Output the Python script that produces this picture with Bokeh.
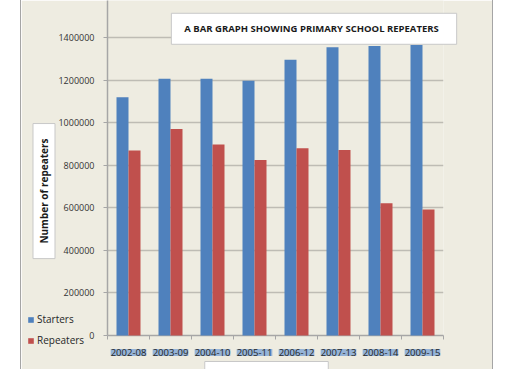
import math
from bokeh.plotting import figure
from bokeh.layouts import column
from bokeh.models import (ColumnDataSource, Range1d, FixedTicker, NumeralTickFormatter,
                          LabelSet, Label)
from bokeh.embed import file_html
from bokeh.resources import INLINE
from bokeh.core.properties import value

# ---- data ----
periods = ["2002-08", "2003-09", "2004-10", "2005-11", "2006-12", "2007-13", "2008-14", "2009-15"]
starters = [1120000, 1207000, 1207000, 1198000, 1296000, 1355000, 1361000, 1366000]
repeaters = [870000, 971000, 898000, 825000, 880000, 872000, 622000, 592000]
y_ticks = [0, 200000, 400000, 600000, 800000, 1000000, 1200000, 1400000]

title_text = "A BAR GRAPH  SHOWING PRIMARY  SCHOOL REPEATERS"
y_title = "Number of repeaters"
x_title = "Period of cohorts"

FONT = "Open Sans"
BG = "#EEECE1"
BLUE = "#4F81BD"
RED = "#C0504D"
AXIS = "#A6A6A6"

# ---- layout constants ----
W, H = 471, 369
LEFT, RIGHT, TOP, BOTTOM = 86, 49, 0, 34
Y_END = 1575000

n = len(periods)
bar_w = 12 / 42
centers = [i + 0.5 for i in range(n)]
src = ColumnDataSource(dict(
    period=periods,
    center=centers,
    sx=[c - bar_w / 2 for c in centers],
    rx=[c + bar_w / 2 for c in centers],
    starters=starters,
    repeaters=repeaters,
))

# ---------------- main chart: background, axes, grid ----------------
p = figure(width=W, height=H, output_backend="svg", toolbar_location=None,
           x_range=Range1d(0, n), y_range=Range1d(0, Y_END),
           min_border_left=LEFT, min_border_right=RIGHT,
           min_border_top=TOP, min_border_bottom=BOTTOM)
p.frame_align = False
p.margin = (0, 0, 0, 21)
p.styles = {"box-shadow": "-1px 0 0 #A5A5A5, 1px 0 0 #A5A5A5"}
p.background_fill_color = BG
p.border_fill_color = BG
p.outline_line_color = None

p.yaxis.ticker = FixedTicker(ticks=y_ticks)
p.yaxis.formatter = NumeralTickFormatter(format="0")
p.yaxis.axis_line_color = AXIS
p.yaxis.axis_line_width = 1.5
p.yaxis.major_tick_line_color = AXIS
p.yaxis.major_tick_out = 4
p.yaxis.major_tick_in = 0
p.yaxis.minor_tick_line_color = None
p.yaxis.major_label_standoff = 9
p.yaxis.major_label_text_font = FONT
p.yaxis.major_label_text_font_size = "9px"
p.yaxis.major_label_text_color = "#333333"

# x axis: tick marks at category boundaries (category labels drawn in overlay)
p.xaxis.ticker = FixedTicker(ticks=[], minor_ticks=list(range(n + 1)))
p.xaxis.axis_line_color = AXIS
p.xaxis.axis_line_width = 1.5
p.xaxis.minor_tick_line_color = AXIS
p.xaxis.minor_tick_out = 4
p.xaxis.minor_tick_in = 0
p.xaxis.major_tick_line_color = None

p.xgrid.grid_line_color = None
p.ygrid.grid_line_color = "#BEBCB4"
p.ygrid.grid_line_width = 1.5

# ---------------- transparent overlay: same data units over the whole canvas ----------------
px_x = (W - LEFT - RIGHT) / n
px_y = (H - TOP - BOTTOM) / Y_END
q = figure(width=W, height=H, output_backend="svg", toolbar_location=None,
           x_range=Range1d(-LEFT / px_x, (W - LEFT) / px_x),
           y_range=Range1d(-BOTTOM / px_y, Y_END + TOP / px_y),
           x_axis_location=None, y_axis_location=None,
           min_border=0)
q.frame_align = False
q.margin = (-H, 0, 0, 21)
q.background_fill_color = None
q.border_fill_color = None
q.outline_line_color = None
q.xgrid.visible = False
q.ygrid.visible = False

q.vbar(x="sx", width=bar_w, top="starters", bottom=0, source=src,
       fill_color=BLUE, line_color=None, legend_label="Starters")
q.vbar(x="rx", width=bar_w, top="repeaters", bottom=0, source=src,
       fill_color=RED, line_color=None, legend_label="Repeaters")

labels = LabelSet(x="center", y=0, text="period", source=src, y_offset=-17,
                  text_align="center", text_baseline="middle",
                  text_font=value(FONT), text_font_size="9.5px", text_color="#262626",
                  background_fill_color="#95B3D7")
try:
    labels.padding = dict(left=2, right=2, top=1, bottom=1)
except Exception:
    pass
q.add_layout(labels)

tl = Label(x=4.917, y=1442000, text=title_text, text_align="center", text_baseline="middle",
           text_font=FONT, text_font_size="9.5px", text_font_style="bold",
           text_color="#1A1A1A", background_fill_color="white",
           border_line_color="#C8C8C8", border_line_width=1,
           padding=dict(left=13, right=13, top=9, bottom=9))
q.add_layout(tl)

yl = Label(x=-1.512, y=679000, text=y_title, angle=math.pi / 2,
           text_align="center", text_baseline="middle",
           text_font=FONT, text_font_size="10px", text_font_style="bold",
           text_color="#1A1A1A", background_fill_color="white",
           border_line_color="#C8C8C8", border_line_width=1,
           padding=dict(left=15, right=15, top=4, bottom=4))
q.add_layout(yl)

xl = Label(x=3.786, y=-178700, text=x_title, text_align="center", text_baseline="middle",
           text_font=FONT, text_font_size="10px", text_font_style="bold",
           text_color="#1A1A1A", background_fill_color="white",
           border_line_color="#C8C8C8", border_line_width=1,
           padding=dict(left=19, right=19, top=6, bottom=4))
q.add_layout(xl)

lg = q.legend[0]
lg.location = (6, 22)
lg.glyph_width = 7
lg.glyph_height = 7
lg.label_height = 12
lg.spacing = 7
lg.padding = 0
lg.margin = 0
lg.label_standoff = 3
lg.border_line_color = None
lg.background_fill_color = None
lg.background_fill_alpha = 0
lg.label_text_font = FONT
lg.label_text_font_size = "10px"
lg.label_text_color = "#262626"

layout = column(p, q)
open("out.html", "w").write(file_html(layout, INLINE))
